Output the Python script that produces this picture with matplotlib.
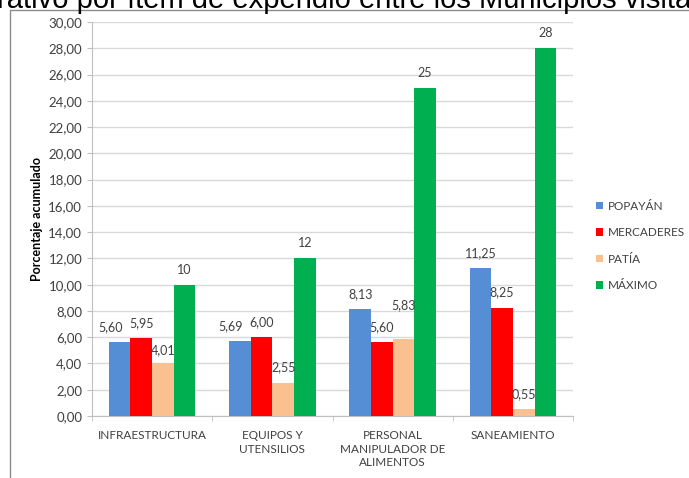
import matplotlib.pyplot as plt
from matplotlib.patches import Rectangle
import numpy as np

categorias = ["INFRAESTRUCTURA", "EQUIPOS Y\nUTENSILIOS", "PERSONAL\nMANIPULADOR DE\nALIMENTOS", "SANEAMIENTO"]
popayan = [5.60, 5.69, 8.13, 11.25]
mercaderes = [5.95, 6.00, 5.60, 8.25]
patia = [4.01, 2.55, 5.83, 0.55]
maximo = [10, 12, 25, 28]
series = ["POPAYÁN", "MERCADERES", "PATÍA", "MÁXIMO"]
colores = ["#558ED5", "#FF0000", "#FAC090", "#00B050"]

plt.rcParams['font.family'] = ['Lato', 'DejaVu Sans']

fig = plt.figure(figsize=(6.89, 4.78), dpi=100)
ax = fig.add_axes([92/689, 1 - 416/478, (573 - 92)/689, (416 - 22)/478])

# recuadro del gráfico y título cortado arriba
fig.patches.append(Rectangle((10/689, -0.1), 1.2, 1.1 - 10/478, transform=fig.transFigure,
                             fill=False, edgecolor="#8C8C8C", linewidth=1))
fig.text(-0.004, 1 - 8/478, "rativo por ítem de expendio entre los Municipios visitados",
         fontsize=21, family=['Liberation Sans'], va='baseline', ha='left', color='black')

x = np.arange(len(categorias))
w = 0.18
datos = [popayan, mercaderes, patia, maximo]
for i, (vals, nombre, c) in enumerate(zip(datos, series, colores)):
    barras = ax.bar(x + (i - 1.5) * w, vals, w, color=c, label=nombre, zorder=3)
    for j, (b, v) in enumerate(zip(barras, vals)):
        texto = f"{v:d}" if nombre == "MÁXIMO" else f"{v:.2f}".replace(".", ",")
        dx, dy = 0, 10.8
        if nombre == "POPAYÁN" and j < 2:
            dx = -6.5
        if nombre == "PATÍA" and j == 0:
            dy = 9.4
        if nombre == "PATÍA" and j == 2:
            dy = 25
        ax.annotate(texto, (b.get_x() + b.get_width() / 2, v), xytext=(dx, dy),
                    textcoords='offset points', ha='center', va='center',
                    fontsize=9, color='#404040', zorder=4)

ax.set_xlim(-0.5, 3.5)
ax.set_ylim(0, 30)
ax.set_yticks(np.arange(0, 31, 2))
ax.set_yticklabels([f"{t:.2f}".replace(".", ",") for t in np.arange(0, 31, 2)])
ax.set_xticks(x)
ax.set_xticklabels(categorias, linespacing=1.3)
ax.set_xticks(np.arange(-0.5, 4, 1), minor=True)
ax.tick_params(axis='x', which='major', length=0, pad=10, labelsize=8.5, labelcolor='#404040')
ax.tick_params(axis='x', which='minor', length=3.6, color='#BFBFBF')
ax.tick_params(axis='y', length=3.6, color='#BFBFBF', pad=3.5, labelsize=9.5, labelcolor='#404040')
ax.grid(axis='y', color='#D9D9D9', linewidth=1, zorder=0)
for s in ['top', 'right']:
    ax.spines[s].set_visible(False)
for s in ['left', 'bottom']:
    ax.spines[s].set_color('#BFBFBF')
ax.set_ylabel("Porcentaje acumulado", fontsize=9, fontweight='bold', labelpad=4)

ax.legend(loc='center left', bbox_to_anchor=(585/689, 1 - 246/478), bbox_transform=fig.transFigure,
          frameon=False, fontsize=8.5, handlelength=0.6, handleheight=0.6, handletextpad=0.4,
          labelspacing=1.32, labelcolor='#404040')

fig.savefig("out.png", dpi=100)
